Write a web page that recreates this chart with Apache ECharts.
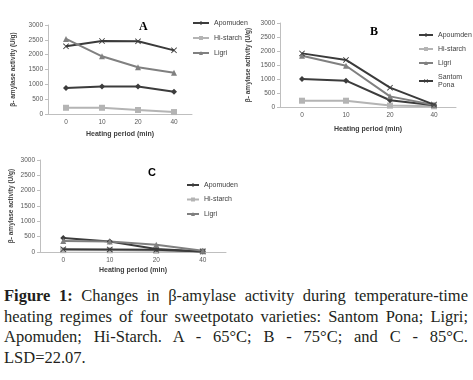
<!DOCTYPE html>
<html>
<head>
<meta charset="utf-8">
<script src="https://cdn.jsdelivr.net/npm/echarts@6/dist/echarts.min.js"></script>
<style>
  body { margin: 0; background: #fff; }
  #wrap { position: relative; width: 473px; height: 380px; }
  #chart { position: absolute; left: 0; top: 0; width: 473px; height: 285px; }
  #caption {
    position: absolute; left: 4px; top: 286px; width: 464px;
    font-family: 'Liberation Serif', serif; font-size: 16.5px; line-height: 20.5px;
    color: #231f20;
  }
  #caption div { text-align: justify; text-align-last: justify; white-space: nowrap; }
  #caption div.last { text-align-last: left; }
</style>
</head>
<body>
<div id="wrap">
  <div id="chart"></div>
  <div id="caption">
    <div><b>Figure 1:</b> Changes in β-amylase activity during temperature-time</div>
    <div>heating regimes of four sweetpotato varieties: Santom Pona; Ligri;</div>
    <div>Apomuden; Hi-Starch. A - 65°C; B - 75°C; and C - 85°C.</div>
    <div class="last">LSD=22.07.</div>
  </div>
</div>
<script>
var chartDom = document.getElementById('chart');
var myChart = echarts.init(chartDom);

// heating period (min)
var periods = ['0', '10', '20', '40'];

// A - 65°C
var apomudenA = [875, 930, 930, 750];
var histarchA = [210, 210, 135, 65];
var ligriA = [2530, 1945, 1575, 1390];
var santomA = [2280, 2460, 2450, 2145];

// B - 75°C
var apomudenB = [1000, 940, 240, 60];
var histarchB = [225, 225, 50, 25];
var ligriB = [1830, 1475, 380, 70];
var santomB = [1915, 1680, 690, 85];

// C - 85°C
var apomudenC = [455, 340, 100, 20];
var histarchC = [60, 55, 40, 20];
var ligriC = [355, 345, 235, 40];
var santomC = [90, 85, 70, 20];

var crossPath = 'path://M0,1L1,0L5,4L9,0L10,1L6,5L10,9L9,10L5,6L1,10L0,9L4,5Z';
var styles = {
    apomuden: { color: '#3c3c3c', symbol: 'diamond', size: 6 },
    histarch: { color: '#b4b4b4', symbol: 'rect', size: 6 },
    ligri: { color: '#808080', symbol: 'triangle', size: 6 },
    santom: { color: '#3a3a3a', symbol: crossPath, size: 6 }
};

function mkLine(name, data, idx, kind) {
    var s = styles[kind];
    return {
        type: 'line',
        name: name,
        data: data,
        xAxisIndex: idx,
        yAxisIndex: idx,
        symbol: s.symbol,
        symbolSize: s.size,
        showSymbol: true,
        lineStyle: { color: s.color, width: 2 },
        itemStyle: { color: s.color },
        emphasis: { disabled: true },
        z: kind === 'histarch' ? 1 : 2
    };
}

var font = 'Liberation Sans';
var grids = [
    { left: 48, top: 25, width: 144, height: 89 },
    { left: 280, top: 23, width: 176, height: 84 },
    { left: 40, top: 160, width: 186, height: 92 }
];
var xNameGaps = [17, 19, 15];
var yNameGaps = [31, 28, 25];

function mkX(i) {
    return {
        type: 'category',
        gridIndex: i,
        data: periods,
        name: 'Heating period (min)',
        nameLocation: 'middle',
        nameGap: xNameGaps[i],
        nameTextStyle: { fontFamily: font, fontSize: 7, fontWeight: 'bold', color: '#404040' },
        axisLine: { lineStyle: { color: '#bfbfbf', width: 1 } },
        axisTick: { show: false },
        axisLabel: { fontFamily: font, fontSize: 6.5, color: '#595959', margin: 5 },
        splitLine: { show: false }
    };
}

function mkY(i) {
    return {
        type: 'value',
        gridIndex: i,
        min: 0,
        max: 3000,
        interval: 500,
        name: 'β- amylase activity (U/g)',
        nameLocation: 'middle',
        nameGap: yNameGaps[i],
        nameRotate: 90,
        nameTextStyle: { fontFamily: font, fontSize: 6.5, fontWeight: 'bold', color: '#404040' },
        axisLine: { show: true, lineStyle: { color: '#bfbfbf', width: 1 } },
        axisTick: { show: true, length: 3, lineStyle: { color: '#bfbfbf' } },
        axisLabel: {
            fontFamily: font, fontSize: 6.5, color: '#595959', margin: 5,
            formatter: function (v) { return String(v); }
        },
        splitLine: { show: false }
    };
}

var legendText = { fontFamily: font, fontSize: 7, color: '#404040', lineHeight: 8 };

var option = {
    animation: false,
    backgroundColor: '#fff',
    title: [
        { text: 'A', left: 134, top: 16, textStyle: { fontFamily: 'Liberation Serif', fontSize: 12, fontWeight: 'bold', color: '#000' } },
        { text: 'B', left: 365, top: 21, textStyle: { fontFamily: 'Liberation Serif', fontSize: 12, fontWeight: 'bold', color: '#000' } },
        { text: 'C', left: 143, top: 162, textStyle: { fontFamily: font, fontSize: 11, fontWeight: 'bold', color: '#000' } }
    ],
    grid: grids,
    xAxis: [mkX(0), mkX(1), mkX(2)],
    yAxis: [mkY(0), mkY(1), mkY(2)],
    legend: [
        {
            orient: 'vertical', left: 187, top: 14, itemWidth: 16, itemHeight: 5, itemGap: 7,
            data: ['Apomuden', 'Hi-starch', 'Ligri'], textStyle: legendText, selectedMode: false
        },
        {
            orient: 'vertical', left: 413, top: 26, itemWidth: 14, itemHeight: 5, itemGap: 6,
            data: ['Apoumden', 'Hi-starch ', 'Ligri ', 'Santom Pona'], textStyle: legendText, selectedMode: false,
            formatter: function (name) {
                if (name === 'Santom Pona') return 'Santom\nPona';
                return name.trim();
            }
        },
        {
            orient: 'vertical', left: 181, top: 176, itemWidth: 12, itemHeight: 5, itemGap: 6.5,
            data: ['Apomuden', 'Hi-starch', 'Ligri'], textStyle: legendText, selectedMode: false
        }
    ],
    series: [
        mkLine('Santom (A)', santomA, 0, 'santom'),
        mkLine('Apomuden', apomudenA, 0, 'apomuden'),
        mkLine('Hi-starch', histarchA, 0, 'histarch'),
        mkLine('Ligri', ligriA, 0, 'ligri'),

        mkLine('Apoumden', apomudenB, 1, 'apomuden'),
        mkLine('Hi-starch ', histarchB, 1, 'histarch'),
        mkLine('Ligri ', ligriB, 1, 'ligri'),
        mkLine('Santom Pona', santomB, 1, 'santom'),

        mkLine('Santom (C)', santomC, 2, 'santom'),
        mkLine('Apomuden', apomudenC, 2, 'apomuden'),
        mkLine('Hi-starch', histarchC, 2, 'histarch'),
        mkLine('Ligri', ligriC, 2, 'ligri')
    ]
};
myChart.setOption(option);
window.addEventListener('resize', function () {
    myChart.resize();
});
</script>
</body>
</html>
